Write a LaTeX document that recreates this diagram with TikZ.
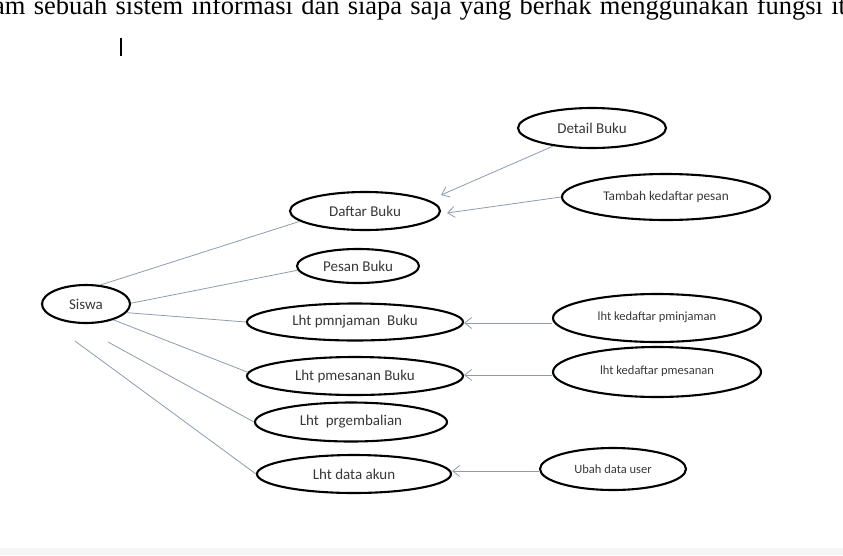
\documentclass[tikz,border=0pt]{standalone}
\usepackage{fontspec}
\setmainfont{Carlito}
\newfontfamily\topserif{Liberation Serif}
\usetikzlibrary{shapes.geometric,arrows.meta}
\definecolor{conncol}{RGB}{140,156,174}
\definecolor{txtcol}{RGB}{55,55,55}
\tikzset{
  uc/.style={ellipse, draw=black, line width=2.1pt, inner sep=0pt, text=txtcol,
             font=\fontsize{15}{16}\selectfont},
  ucsmall/.style={uc, font=\fontsize{12.5}{13}\selectfont},
  conn/.style={draw=conncol, line width=0.8pt},
  arr/.style={conn, -{Straight Barb[length=7pt,width=11pt]}}
}
\begin{document}
\begin{tikzpicture}[x=1pt,y=-1pt]
\useasboundingbox (0,0) rectangle (843,555);
\fill[black!4] (0,548) rectangle (843,555);
% cut-off paragraph line at the top
\node[anchor=base west, inner sep=0pt, font=\topserif\fontsize{26.5}{28}\selectfont] (para) at (-7,14.5)
  {\makebox[866pt][s]{am sebuah sistem informasi dan siapa saja yang berhak menggunakan fungsi itu}};
\draw[line width=1.4pt] (121,38) -- (121,56);
% use cases
\node[uc, minimum width=88pt, minimum height=38pt] (siswa) at (86,304) {Siswa};
\node[uc, minimum width=150pt, minimum height=38pt] (daftar) at (365,211) {Daftar Buku};
\node[uc, minimum width=148pt, minimum height=40pt] (detail) at (592,128) {Detail Buku};
\node[ucsmall, font=\fontsize{13.3}{14}\selectfont, minimum width=208pt, minimum height=46pt] (tambah) at (666,197) {\raisebox{3pt}{Tambah kedaftar pesan}};
\node[uc, minimum width=122pt, minimum height=34pt] (pesan) at (358,266) {Pesan Buku};
\node[uc, minimum width=216pt, minimum height=37pt] (lpinjam) at (355,322) {Lht pmnjaman\ \ Buku};
\node[uc, minimum width=216pt, minimum height=38pt] (lpesan) at (355,376) {Lht pmesanan Buku};
\node[uc, minimum width=192pt, minimum height=39pt] (lkembali) at (351,422) {Lht\ \ prgembalian};
\node[uc, minimum width=194pt, minimum height=38pt] (lakun) at (354,474) {Lht data akun};
\node[ucsmall, minimum width=208pt, minimum height=48pt] (kpinjam) at (657,318) {\raisebox{4pt}{lht kedaftar pminjaman}};
\node[ucsmall, minimum width=208pt, minimum height=50pt] (kpesan) at (657,372) {\raisebox{4pt}{lht kedaftar pmesanan}};
\node[ucsmall, minimum width=146pt, minimum height=42pt] (ubah) at (613,469) {Ubah data user};
% associations from Siswa
\coordinate (s5) at (108,342);
\coordinate (s6) at (75,341);
\draw[conn] (siswa.53) -- (daftar.189);
\draw[conn] (siswa.1) -- (pesan.184);
\draw[conn] (siswa.348) -- (lpinjam.180);
\draw[conn] (siswa.330) -- (lpesan.178);
\draw[conn] (s5) -- (lkembali.180);
\draw[conn] (s6) -- (lakun.180);
% dependencies
\draw[arr] (detail.205) -- ([yshift=16pt]daftar.east);
\draw[arr] (tambah.west) -- ([xshift=6pt,yshift=-2pt]daftar.east);
\draw[arr] ([yshift=-5pt]kpinjam.west) -- ([yshift=-1pt]lpinjam.east);
\draw[arr] ([yshift=-3pt]kpesan.west) -- ([yshift=1pt]lpesan.east);
\draw[arr] ([yshift=-2pt]ubah.west) -- ([yshift=3pt]lakun.east);
\end{tikzpicture}
\end{document}
